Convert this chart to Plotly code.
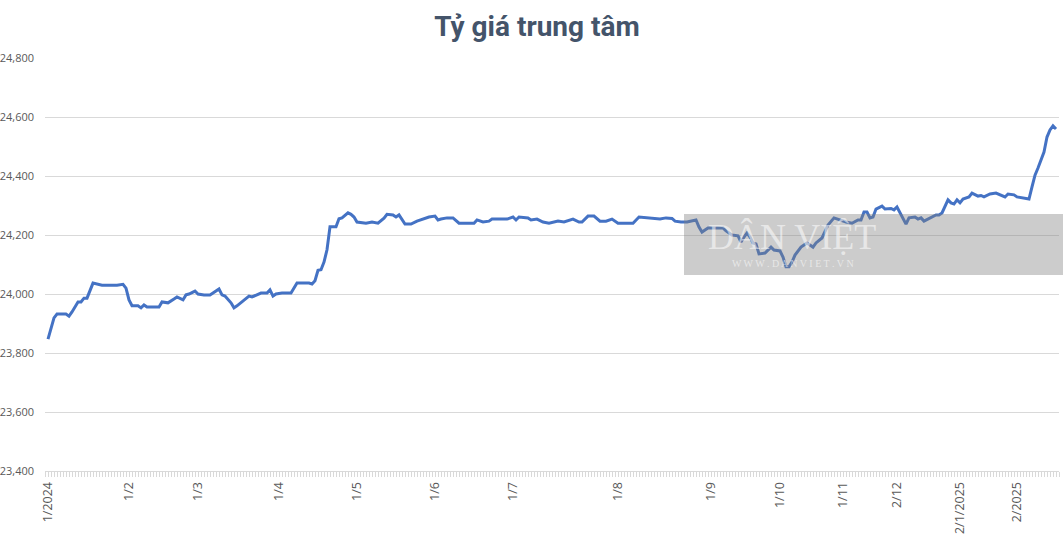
import plotly.graph_objects as go

# Trading-session index (category position along the x axis) and central rate value
session = [0, 1, 2, 3, 6, 7, 8, 10, 11, 12, 13, 15, 17, 18, 23, 25, 26, 27, 28, 30,
           31, 32, 33, 37, 38, 40, 42, 43, 45, 46, 47, 49, 50, 52, 54, 57, 58, 59, 61, 62,
           63, 65, 66, 67, 68, 71, 73, 74, 75, 76, 78, 81, 83, 87, 88, 89, 90, 91, 92, 93,
           94, 96, 97, 98, 100, 101, 102, 103, 106, 108, 110, 112, 113, 115, 116, 117, 119, 121, 123, 125,
           127, 129, 130, 131, 133, 135, 137, 140, 142, 143, 145, 147, 148, 151, 153, 155, 156, 157, 160, 161,
           163, 165, 167, 170, 172, 175, 177, 178, 180, 182, 184, 186, 188, 190, 195, 197, 201, 204, 206, 208,
           209, 211, 213, 215, 216, 217, 218, 219, 220, 223, 225, 226, 228, 230, 231, 232, 233, 234, 235, 236,
           237, 239, 240, 241, 242, 244, 245, 246, 247, 248, 249, 251, 252, 253, 255, 256, 258, 260, 262, 264,
           266, 268, 270, 271, 272, 273, 274, 275, 276, 278, 279, 281, 282, 283, 284, 286, 287, 289, 290, 291,
           292, 294, 296, 297, 298, 300, 301, 302, 303, 304, 305, 307, 308, 310, 311, 312, 314, 316, 318, 319,
           320, 322, 323, 326, 327, 328, 329, 330, 331, 332, 333, 334, 335, 336]
rate = [23847, 23888, 23919, 23932, 23932, 23925, 23939, 23973, 23973, 23986, 23986, 24037, 24034, 24030, 24030, 24033, 24020, 23980, 23960, 23960,
        23953, 23963, 23956, 23956, 23973, 23970, 23983, 23990, 23980, 23997, 24000, 24010, 24000, 23997, 23997, 24017, 23997, 23993, 23970, 23953,
        23960, 23976, 23983, 23993, 23990, 24003, 24003, 24014, 23993, 24000, 24003, 24003, 24037, 24037, 24034, 24045, 24080, 24082, 24108, 24150,
        24228, 24228, 24255, 24258, 24275, 24270, 24261, 24244, 24240, 24244, 24240, 24257, 24270, 24268, 24261, 24268, 24237, 24237, 24247, 24254,
        24261, 24264, 24251, 24254, 24258, 24258, 24240, 24240, 24240, 24251, 24244, 24247, 24254, 24254, 24254, 24261, 24251, 24261, 24258, 24251,
        24254, 24244, 24240, 24247, 24244, 24254, 24244, 24244, 24264, 24264, 24247, 24247, 24254, 24240, 24240, 24261, 24258, 24254, 24258, 24256,
        24247, 24244, 24244, 24247, 24251, 24227, 24210, 24217, 24224, 24224, 24224, 24214, 24200, 24197, 24176, 24193, 24207, 24193, 24173, 24170,
        24136, 24139, 24149, 24159, 24149, 24146, 24125, 24092, 24092, 24108, 24132, 24159, 24166, 24173, 24159, 24173, 24190, 24234, 24258, 24251,
        24244, 24240, 24251, 24251, 24278, 24278, 24258, 24261, 24288, 24298, 24288, 24290, 24285, 24295, 24275, 24237, 24258, 24261, 24254, 24258,
        24247, 24258, 24268, 24268, 24275, 24319, 24309, 24305, 24319, 24309, 24322, 24329, 24342, 24332, 24334, 24329, 24339, 24342, 24332, 24329,
        24339, 24336, 24329, 24322, 24322, 24363, 24403, 24427, 24454, 24481, 24532, 24556, 24570, 24559]

tick_pos = [0, 27, 50, 77, 103, 129, 155, 190, 221, 244, 265, 283, 304, 323]
tick_labels = ["1/2024", "1/2", "1/3", "1/4", "1/5", "1/6", "1/7", "1/8", "1/9",
               "1/10", "1/11", "2/12", "2/1/2025", "2/2025"]

title_text = "Tỷ giá trung tâm"

W, H = 1063, 535
L, R, T, B = 45, 4, 58, 64
pw, ph = W - L - R, H - T - B


def px(x):
    return (x - L) / pw


def py(y):
    return (H - B - y) / ph


fig = go.Figure()
fig.add_trace(go.Scatter(
    x=session, y=rate, mode="lines",
    line=dict(color="#4472C4", width=3),
    hoverinfo="skip", showlegend=False,
))

fig.update_layout(
    width=W, height=H,
    margin=dict(l=L, r=R, t=T, b=B),
    paper_bgcolor="white", plot_bgcolor="white",
    font=dict(family="Open Sans", color="#595959"),
    title=dict(text="<b>" + title_text + "</b>", x=537 / W, xanchor="center",
               xref="container", y=1 - 26 / H, yanchor="middle", yref="container",
               font=dict(family="Roboto", size=28, color="#44546A")),
    xaxis=dict(
        range=[-1, 337], tickmode="array", tickvals=tick_pos, ticktext=tick_labels,
        tickangle=-90, showgrid=False, zeroline=False, automargin=False,
        showline=True, linecolor="#D9D9D9", linewidth=1,
        ticks="outside", ticklen=5, tickcolor="#D9D9D9",
        minor=dict(tickmode="linear", tick0=0, dtick=1, ticks="outside",
                   ticklen=5, tickcolor="#D9D9D9", showgrid=False),
        tickfont=dict(size=12.5, color="#595959"),
    ),
    yaxis=dict(
        range=[23400, 24800], dtick=200, tickformat=",", showgrid=True,
        gridcolor="#D9D9D9", gridwidth=1, zeroline=False, showline=False,
        automargin=False, ticklabelstandoff=10,
        tickfont=dict(size=11, color="#595959"),
    ),
)

# watermark overlay
fig.add_shape(type="rect", xref="paper", yref="paper",
              x0=px(684), x1=px(1064), y0=py(275), y1=py(214),
              fillcolor="rgba(128,128,128,0.4)", line=dict(width=0), layer="above")
fig.add_annotation(text="DÂN VIỆT", xref="paper", yref="paper",
                   x=px(792), y=py(237), xanchor="center", yanchor="middle",
                   showarrow=False,
                   font=dict(family="Liberation Serif", size=36, color="rgba(255,255,255,0.55)"))
fig.add_annotation(text="W W W . D A N V I E T . V N", xref="paper", yref="paper",
                   x=px(793), y=py(263), xanchor="center", yanchor="middle",
                   showarrow=False,
                   font=dict(family="Liberation Serif", size=10, color="rgba(255,255,255,0.55)"))

fig.write_html("out.html", post_script="document.body.style.margin='0';",
               config={"displayModeBar": False})
